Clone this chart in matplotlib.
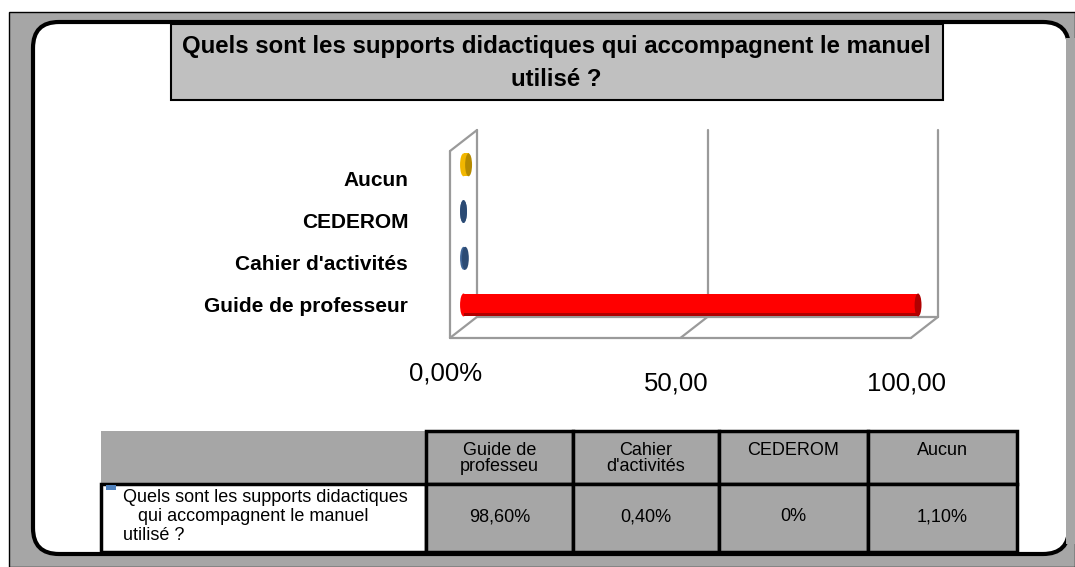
import matplotlib.pyplot as plt
from matplotlib.patches import Rectangle, FancyBboxPatch, Ellipse

plt.rcParams['font.family'] = ['Liberation Sans', 'DejaVu Sans']

# data
categories = ["Guide de professeur", "Cahier d'activités", "CEDEROM", "Aucun"]
header_labels = ["Guide de\nprofesseu", "Cahier\nd'activités", "CEDEROM", "Aucun"]
values = [98.6, 0.4, 0.0, 1.1]
value_labels = ["98,60%", "0,40%", "0%", "1,10%"]
tick_values = [0, 50, 100]
tick_labels = ["0,00%", "50,00", "100,00"]
title_lines = ["Quels sont les supports didactiques qui accompagnent le manuel", "utilisé ?"]
series_lines = ["Quels sont les supports didactiques", "   qui accompagnent le manuel", "utilisé ?"]

bar_colors = ['#ff0000', '#3f6597', '#3f6597', '#f2b700']
cap_colors = ['#b00000', '#2c4b74', '#2c4b74', '#b58a00']

W, H = 1075, 567
fig = plt.figure(figsize=(W / 100, H / 100), dpi=100)

# background / frame, in pixel coordinates
bg = fig.add_axes([0, 0, 1, 1])
bg.set_xlim(0, W)
bg.set_ylim(H, 0)
bg.axis('off')
gray = '#a6a6a6'
bg.add_patch(Rectangle((9, 12), W - 9, H - 12, fc=gray, ec='black', lw=1))
bg.add_patch(FancyBboxPatch((33, 22), 1036, 532, boxstyle="round,pad=0,rounding_size=26",
                            fc='white', ec='black', lw=3))
bg.add_patch(Rectangle((1066, 38), 10, 506, fc=gray, ec='none'))

# title box
bg.add_patch(Rectangle((171, 24), 772, 76, fc='#c0c0c0', ec='black', lw=1.5))
bg.text(556, 47, title_lines[0], ha='center', va='center', fontsize=17.3, fontweight='bold')
bg.text(556, 80, title_lines[1], ha='center', va='center', fontsize=17.3, fontweight='bold')

# table
col_edges = [101, 426, 573, 719, 868, 1017]
row_edges = [431, 484, 552]
bg.add_patch(Rectangle((col_edges[0], row_edges[0]), col_edges[1] - col_edges[0],
                       row_edges[1] - row_edges[0], fc=gray, ec='none'))
bg.add_patch(Rectangle((col_edges[0], row_edges[1]), col_edges[1] - col_edges[0],
                       row_edges[2] - row_edges[1], fc='white', ec='black', lw=2.5, zorder=2))
for j in range(len(categories)):
    x0, x1 = col_edges[j + 1], col_edges[j + 2]
    for r in range(2):
        bg.add_patch(Rectangle((x0, row_edges[r]), x1 - x0, row_edges[r + 1] - row_edges[r],
                               fc=gray, ec='black', lw=2.5, zorder=2))
    bg.text((x0 + x1) / 2, 442, header_labels[j], ha='center', va='top', fontsize=13,
            linespacing=0.95, zorder=3)
    bg.text((x0 + x1) / 2, 521, value_labels[j], ha='center', va='baseline', fontsize=13, zorder=3)
bg.add_patch(Rectangle((106, 485), 10, 5, fc='#4f81bd', ec='none', zorder=3))
for k, line in enumerate(series_lines):
    bg.text(123, 502 + 19 * k, line, ha='left', va='baseline', fontsize=13, zorder=3)

# 3D-like bar chart
ax = fig.add_axes([440 / W, (H - 345) / H, 510 / W, 225 / H])
ax.patch.set_alpha(0)
ax.set_xlim(-5.10, 105.53)
ax.set_ylim(-0.857, 3.96)
ax.axis('off')

D, E = 2.93, 0.225  # half depth (x units, y units)
floor, top = -0.48, 3.52
lc = dict(color='#9a9a9a', lw=1.6, zorder=1, solid_capstyle='round')
ax.plot([-D, -D], [floor - E, top - E], **lc)
ax.plot([D, D], [floor + E, top + E], **lc)
ax.plot([-D, D], [top - E, top + E], **lc)
ax.plot([-D, 100 - D], [floor - E, floor - E], **lc)
ax.plot([D, 100 + D], [floor + E, floor + E], **lc)
for t in tick_values:
    ax.plot([t - D, t + D], [floor - E, floor + E], **lc)
    if t > 0:
        ax.plot([t + D, t + D], [floor + E, top + E], **lc)

bh = 0.49
ew = 1.5
for i, (v, c, cc) in enumerate(zip(values, bar_colors, cap_colors)):
    ax.barh(i, v, height=bh, left=0, color=c, zorder=3)
    ax.add_patch(Ellipse((0, i), ew, bh, fc=c, ec='none', zorder=3))
    if v > 5:
        ax.barh(i - bh / 2 + 0.04, v, height=0.08, left=0, color=cc, zorder=3.5)
    ax.add_patch(Ellipse((v, i), ew, bh, fc=cc, ec='none', zorder=4))

for i, name in enumerate(categories):
    ax.text(-12.0, 0.9 * i - 0.15, name, ha='right', va='baseline', fontsize=15,
            fontweight='bold')

tick_y = [-1.627, -1.84, -1.84]
for t, lab, ty in zip(tick_values, tick_labels, tick_y):
    ax.text(t - D - 1, ty, lab, ha='center', va='baseline', fontsize=18.5)

fig.savefig('out.png', dpi=100)
